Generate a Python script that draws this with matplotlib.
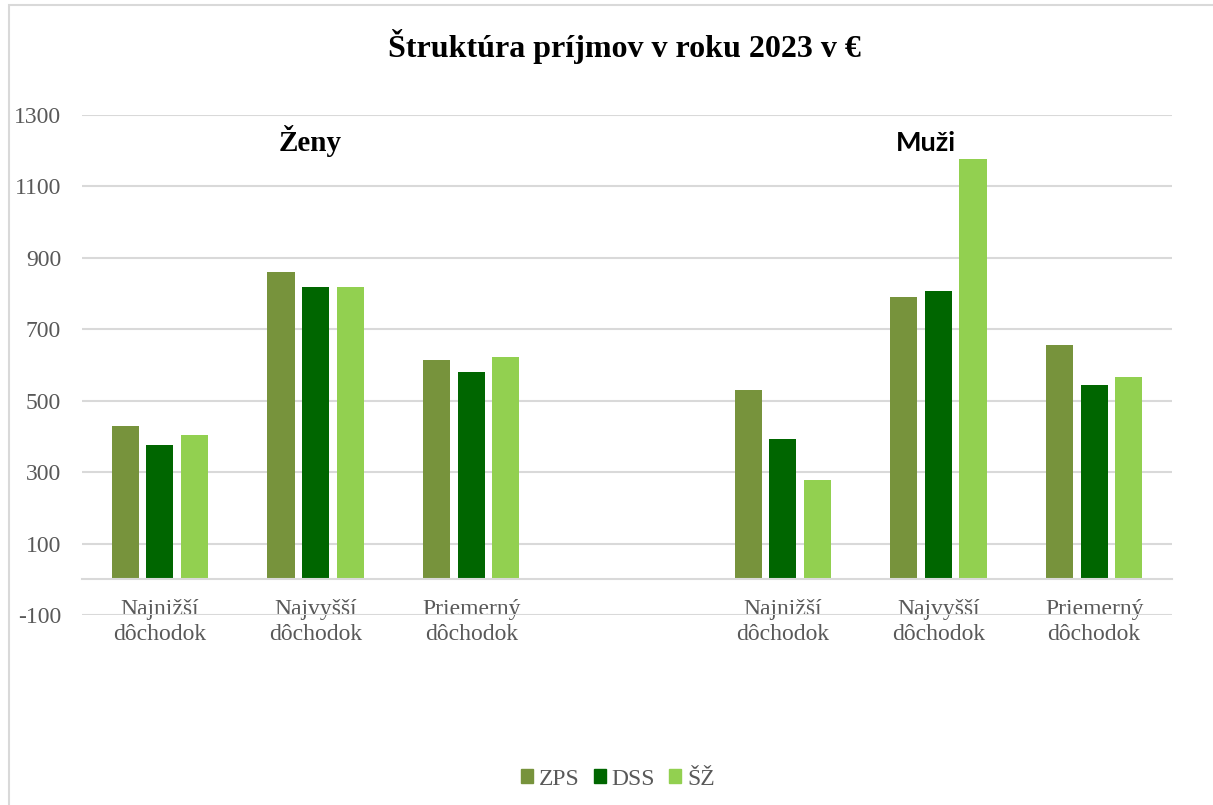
import matplotlib.pyplot as plt
import numpy as np
from matplotlib.patches import Rectangle, Patch


# hodnoty odčítané z grafu
series = ['ZPS', 'DSS', 'ŠŽ']
colors = ['#77933C', '#006600', '#92D050']
labels = ['Najnižší\ndôchodok', 'Najvyšší\ndôchodok', 'Priemerný\ndôchodok']
zeny = [[430, 860, 613],      # ZPS
        [375, 818, 579],      # DSS
        [404, 818, 622]]      # ŠŽ
muzi = [[530, 790, 656],
        [393, 808, 543],
        [279, 1178, 565]]
yticks = list(range(-100, 1301, 200))

W, H = 1213, 805
serif = 'Liberation Serif'
gray = '#595959'
grid = '#D9D9D9'

fig = plt.figure(figsize=(W / 100, H / 100), dpi=100)
ax = fig.add_axes([82 / W, 1 - 615 / H, (1172 - 82) / W, 500 / H])

# os kategórií na nule (pred nastavením popiskov, inak sa zresetujú)
ax.spines['bottom'].set_position(('data', 0))
ax.spines['bottom'].set_color(grid)
ax.spines['bottom'].set_linewidth(1.5)
ax.spines['bottom'].set_zorder(4)
for s in ['left', 'right', 'top']:
    ax.spines[s].set_visible(False)

# 7 kategórií, stredná prázdna
x_z = np.arange(3)
x_m = np.arange(3) + 4
bw = 0.175
step = 0.222
for i in range(3):
    off = (i - 1) * step
    ax.bar(x_z + off, zeny[i], width=bw, color=colors[i], zorder=3)
    ax.bar(x_m + off, muzi[i], width=bw, color=colors[i], zorder=3)

ax.set_xlim(-0.5, 6.5)
ax.set_ylim(-100, 1300)
ax.set_yticks(yticks)
ax.set_yticklabels([str(v) for v in yticks], fontsize=17, family=serif, color=gray)
ax.yaxis.grid(True, color=grid, linewidth=1.5, zorder=0)
ax.set_axisbelow(True)

ax.set_xticks(list(x_z) + list(x_m))
ax.set_xticklabels(labels + labels, fontsize=17, family=serif, color=gray, linespacing=1.25)
ax.tick_params(axis='x', length=0, pad=14)
ax.tick_params(axis='y', length=0, pad=15)

# nadpis a popisky skupín
fig.text(624 / W, 1 - 47 / H, 'Štruktúra príjmov v roku 2023 v €', fontsize=23,
         weight='bold', family=serif, ha='center', va='center')
fig.text(310 / W, 1 - 141 / H, 'Ženy', fontsize=21, weight='bold', family=serif,
         ha='center', va='center')
fig.text(926 / W, 1 - 143 / H, 'Muži', fontsize=19.5, weight='bold', family='Lato',
         ha='center', va='center')

handles = [Patch(color=c, label=s) for c, s in zip(colors, series)]
leg = fig.legend(handles=handles, loc='center', bbox_to_anchor=(618 / W, 1 - 779 / H),
                 ncol=3, frameon=False, handlelength=0.5, handleheight=0.5,
                 handletextpad=0.25, columnspacing=0.6,
                 prop={'family': serif, 'size': 17})
for t in leg.get_texts():
    t.set_color(gray)

# rámček grafu
fig.patches.append(Rectangle((9 / W, -0.05), 1.2, 1 - 5 / H + 0.05,
                             transform=fig.transFigure, fill=False,
                             edgecolor=grid, linewidth=1.5))

fig.savefig('out.png', dpi=100)
